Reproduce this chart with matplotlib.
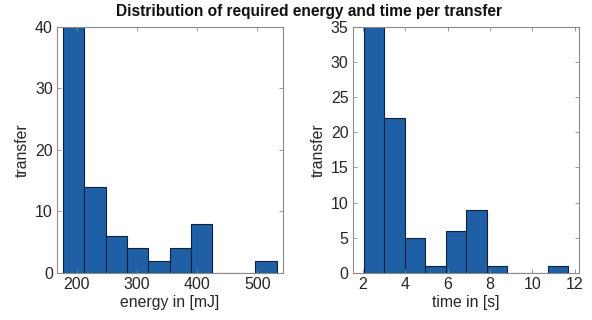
import matplotlib
matplotlib.use("Agg")
import matplotlib.pyplot as plt
import numpy as np

plt.rcParams['font.family'] = ['Liberation Sans', 'DejaVu Sans']

# Energy histogram (mJ)
energy_edges_start = 177.0
energy_bin_width = 35.5
energy_counts = [40, 14, 6, 4, 2, 4, 8, 0, 0, 2]
energy_ticks = [200, 300, 400, 500]
energy_yticks = [0, 10, 20, 30, 40]

# Time histogram (s)
time_edges_start = 2.06
time_bin_width = 0.963
time_counts = [35, 22, 5, 1, 6, 9, 1, 0, 0, 1]
time_ticks = [2, 4, 6, 8, 10, 12]
time_yticks = [0, 5, 10, 15, 20, 25, 30, 35]

title = "Distribution of required energy and time per transfer"

bar_color = "#1f5fa6"
edge_color = "#0d2238"
spine_color = "#8a8a8a"

fig = plt.figure(figsize=(5.92, 3.2), dpi=100)
ax1 = fig.add_axes([0.0963, 0.147, 0.382, 0.769])
ax2 = fig.add_axes([0.596, 0.147, 0.382, 0.769])

def draw(ax, start, width, counts, xticks, yticks, xlim, ylim, xlabel):
    edges = start + width * np.arange(len(counts) + 1)
    ax.bar(edges[:-1], counts, width=width, align='edge', color=bar_color,
           edgecolor=edge_color, linewidth=0.8)
    ax.set_xlim(*xlim)
    ax.set_ylim(*ylim)
    ax.set_xticks(xticks)
    ax.set_yticks(yticks)
    ax.tick_params(direction='in', top=True, right=True, length=3,
                   width=0.6, color=spine_color, labelsize=11.5,
                   labelcolor='#262626', pad=3)
    for s in ax.spines.values():
        s.set_color(spine_color)
        s.set_linewidth(0.8)
    ax.set_xlabel(xlabel, fontsize=11.3, color='#262626', labelpad=2)
    ax.set_ylabel("transfer", fontsize=11.3, color='#262626', labelpad=4)

draw(ax1, energy_edges_start, energy_bin_width, energy_counts, energy_ticks,
     energy_yticks, (167, 543), (0, 40), "energy in [mJ]")
draw(ax2, time_edges_start, time_bin_width, time_counts, time_ticks,
     time_yticks, (1.54, 12.19), (0, 35), "time in [s]")

fig.text(0.522, 0.963, title, ha='center', va='center', fontsize=11.2,
         fontweight='bold', color='#111111')

fig.savefig("out.png", dpi=100)
